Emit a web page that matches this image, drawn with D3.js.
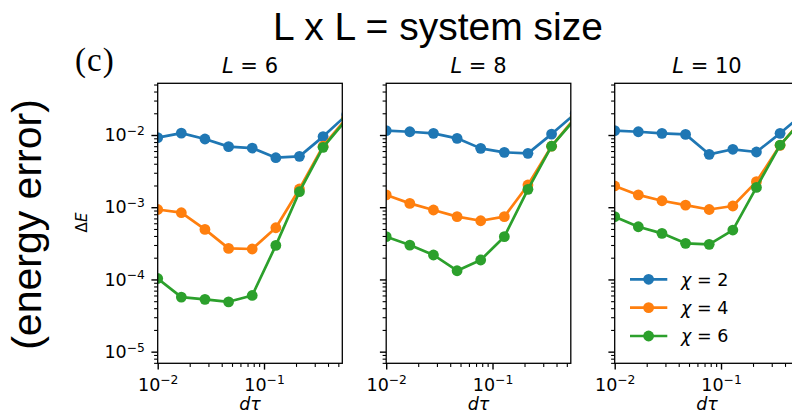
<!DOCTYPE html>
<html>
<head>
<meta charset="utf-8">
<script src="https://cdn.jsdelivr.net/npm/d3@7"></script>
<style>
  body { margin: 0; background: #fff; }
  svg { display: block; }
  .axis text { font-family: "DejaVu Sans", sans-serif; font-size: 17.5px; fill: #000; }
  .axis line { stroke: #000; }
</style>
</head>
<body>
<svg id="chart" width="792" height="416"></svg>
<script>
// time step values (x)
const dtau = [0.01, 0.01668, 0.02783, 0.04642, 0.07743, 0.1292, 0.2154, 0.3594, 0.5995];

const sizes = [6, 8, 10];
const chis = [2, 4, 6];

// energy error, one row per chi (2, 4, 6)
const errL6 = [
  [0.0092, 0.0106, 0.0088, 0.0069, 0.0066, 0.00485, 0.00506, 0.0095, 0.019],
  [0.00093, 0.00084, 0.000493, 0.000269, 0.000264, 0.00052, 0.00179, 0.0070, 0.0172],
  [0.000103, 0.000057, 0.000053, 0.000049, 0.000060, 0.000296, 0.00164, 0.00675, 0.0165]
];
const errL8 = [
  [0.0115, 0.0111, 0.01055, 0.0090, 0.00653, 0.00575, 0.00557, 0.0103, 0.0198],
  [0.00148, 0.00113, 0.000915, 0.00074, 0.00065, 0.00074, 0.00203, 0.0070, 0.0175],
  [0.000391, 0.000299, 0.000218, 0.000132, 0.000186, 0.000391, 0.00177, 0.0070, 0.0168]
];
const errL10 = [
  [0.0115, 0.0111, 0.01055, 0.0102, 0.0054, 0.00634, 0.00582, 0.01055, 0.020],
  [0.00197, 0.00148, 0.00123, 0.00107, 0.00093, 0.00104, 0.00226, 0.0072, 0.0175],
  [0.00074, 0.000537, 0.000435, 0.000316, 0.000306, 0.000483, 0.00188, 0.00726, 0.0168]
];

const xTicks = [1e-2, 1e-1];
const yTicks = [1e-2, 1e-3, 1e-4, 1e-5];

const colors = ["#1f77b4", "#ff7f0e", "#2ca02c"];
const panels = [errL6, errL8, errL10];

var svg = d3.select("#chart");

var w = 184.6,
    h = 280,
    plotTop = 83.3;
var panelLeft = [157.7, 386.2, 614.7];

var xScale = d3.scaleLog().domain([0.01, 0.545]).range([0, w]);
var yScale = d3.scaleLog().domain([6.9e-6, 0.052]).range([h, 0]);

// minor ticks at 2..9 of every decade inside the domain
function minorTicks(scale) {
  var dom = scale.domain(), out = [];
  for (var e = -6; e <= 0; e++) {
    for (var m = 2; m <= 9; m++) {
      var v = m * Math.pow(10, e);
      if (v >= dom[0] * 0.999 && v <= dom[1]) out.push(v);
    }
  }
  return out;
}

// 10^-n labels like matplotlib mathtext
function powLabel(sel) {
  sel.each(function(d) {
    var t = d3.select(this).text("");
    t.append("tspan").text("10");
    t.append("tspan")
      .attr("dy", -6.2)
      .style("font-size", "12.3px")
      .text("\u2212" + Math.round(-Math.log10(d)));
  });
}

var line = d3.line()
  .x(function(d) { return xScale(d[0]); })
  .y(function(d) { return yScale(d[1]); });

panels.forEach(function(errs, p) {
  var g = svg.append("g")
    .attr("transform", "translate(" + panelLeft[p] + "," + plotTop + ")");

  g.append("clipPath").attr("id", "clip" + p)
    .append("rect").attr("width", w).attr("height", h);

  var plot = g.append("g").attr("clip-path", "url(#clip" + p + ")");

  errs.forEach(function(vals, i) {
    var pts = dtau.map(function(x, k) { return [x, vals[k]]; });
    plot.append("path")
      .datum(pts)
      .attr("d", line)
      .attr("fill", "none")
      .attr("stroke", colors[i])
      .attr("stroke-width", 2.7)
      .attr("stroke-linejoin", "round");
    plot.selectAll(".m" + i)
      .data(pts)
      .enter().append("circle")
        .attr("class", "m" + i)
        .attr("cx", function(d) { return xScale(d[0]); })
        .attr("cy", function(d) { return yScale(d[1]); })
        .attr("r", 5.4)
        .attr("fill", colors[i]);
  });

  // AXES
  g.append("g").attr("class", "axis")
    .call(d3.axisLeft(yScale).tickValues(minorTicks(yScale)).tickSize(3.6).tickFormat(""))
    .call(function(a) { a.select(".domain").remove(); })
    .selectAll("line").attr("stroke-width", 1.1);

  var yMaj = g.append("g").attr("class", "axis")
    .call(d3.axisLeft(yScale).tickValues(yTicks).tickSize(6.3).tickPadding(6.5));
  yMaj.select(".domain").remove();
  yMaj.selectAll("line").attr("stroke-width", 1.4);
  if (p == 0) {
    yMaj.selectAll("text").call(powLabel);
  } else {
    yMaj.selectAll("text").remove();
  }

  g.append("g").attr("class", "axis")
    .attr("transform", "translate(0," + h + ")")
    .call(d3.axisBottom(xScale).tickValues(minorTicks(xScale)).tickSize(3.6).tickFormat(""))
    .call(function(a) { a.select(".domain").remove(); })
    .selectAll("line").attr("stroke-width", 1.1);

  var xMaj = g.append("g").attr("class", "axis")
    .attr("transform", "translate(0," + h + ")")
    .call(d3.axisBottom(xScale).tickValues(xTicks).tickSize(6.3).tickPadding(8.5));
  xMaj.select(".domain").remove();
  xMaj.selectAll("line").attr("stroke-width", 1.4);
  xMaj.selectAll("text").call(powLabel);

  // frame
  g.append("rect")
    .attr("width", w).attr("height", h)
    .attr("fill", "none").attr("stroke", "#000").attr("stroke-width", 1.3);

  // title L = n
  var title = g.append("text")
    .attr("x", w / 2).attr("y", -10)
    .attr("text-anchor", "middle")
    .style("font-family", "DejaVu Sans, sans-serif")
    .style("font-size", "21px");
  title.append("tspan").style("font-style", "italic").text("L");
  title.append("tspan").text(" = " + sizes[p]);

  // x label
  g.append("text")
    .attr("x", w / 2).attr("y", h + 47)
    .attr("text-anchor", "middle")
    .style("font-family", "DejaVu Sans, sans-serif")
    .style("font-size", "17.5px")
    .style("font-style", "italic")
    .text("d\u03c4");

  // LEGEND only in last panel
  if (p == 2) {
    var leg = g.append("g").attr("transform", "translate(15.3,196)");
    chis.forEach(function(c, i) {
      var row = leg.append("g").attr("transform", "translate(0," + (i * 28.35) + ")");
      row.append("line")
        .attr("x1", 0).attr("x2", 37.3)
        .attr("stroke", colors[i]).attr("stroke-width", 2.7);
      row.append("circle").attr("cx", 18.6).attr("r", 5.4).attr("fill", colors[i]);
      var t = row.append("text")
        .attr("x", 51).attr("y", 6.3)
        .style("font-family", "DejaVu Sans, sans-serif")
        .style("font-size", "17.5px");
      t.append("tspan").style("font-style", "italic").text("\u03c7");
      t.append("tspan").text(" = " + c);
    });
  }
});

// y label on first panel
svg.append("text")
  .attr("transform", "translate(87,222.5) rotate(-90)")
  .attr("text-anchor", "middle")
  .style("font-family", "DejaVu Sans, sans-serif")
  .style("font-size", "15px")
  .html('\u0394<tspan font-style="italic">E</tspan>');

// big annotations
svg.append("text")
  .attr("x", 438).attr("y", 40)
  .attr("text-anchor", "middle")
  .style("font-family", "Liberation Sans, Arial, sans-serif")
  .style("font-size", "39px")
  .text("L x L = system size");

svg.append("text")
  .attr("transform", "translate(41,224.5) rotate(-90)")
  .attr("text-anchor", "middle")
  .style("font-family", "Liberation Sans, Arial, sans-serif")
  .style("font-size", "41px")
  .text("(energy error)");

svg.append("text")
  .attr("x", 75).attr("y", 71)
  .style("font-family", "Liberation Serif, Times New Roman, serif")
  .style("font-size", "33px")
  .style("letter-spacing", "1px")
  .text("(c)");
</script>
</body>
</html>
